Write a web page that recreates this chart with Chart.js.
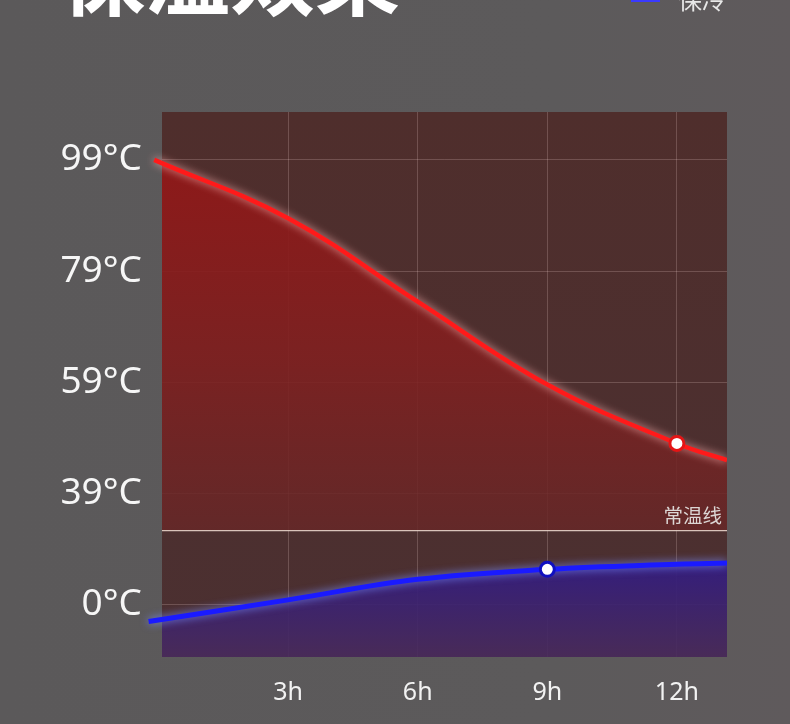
<!DOCTYPE html>
<html>
<head>
<meta charset="utf-8">
<script src="https://cdn.jsdelivr.net/npm/chart.js@4.4.1/dist/chart.umd.min.js"></script>
<style>
  html,body{margin:0;padding:0;background:#5c5a5b;overflow:hidden;}
  #wrap{position:relative;width:790px;height:724px;background:linear-gradient(90deg,#5b595a 0%,#5c5a5b 70%,#5f5a5c 100%);}
  #title{position:absolute;left:60px;top:-90px;font:bold 85px "Noto Sans CJK SC",sans-serif;color:#ffffff;white-space:nowrap;}
  #legend{position:absolute;left:631px;top:-20px;height:30px;white-space:nowrap;}
  #legend .box{position:absolute;left:0;top:8px;width:29px;height:14px;background:#1010d8;box-sizing:border-box;border:2px solid #3a3aff;}
  #legend .txt{position:absolute;left:47px;top:1px;font:24px "Noto Sans CJK SC",sans-serif;color:#e8e8e8;}
  canvas{position:absolute;left:0;top:0;}
</style>
</head>
<body>
<div id="wrap">
  <canvas id="c" width="790" height="724"></canvas>
  <div id="title">保温效果</div>
  <div id="legend"><div class="box"></div><div class="txt">保冷</div></div>
</div>
<script>
// ---- data ----
const yTickTemps  = [0, 39, 59, 79, 99];
const yTickLabels = ['0°C', '39°C', '59°C', '79°C', '99°C'];
const xTickHours  = [3, 6, 9, 12];
const xTickLabels = ['3h', '6h', '9h', '12h'];

const warmHours = [-0.1, 3, 6, 9, 12, 13.16];
const warmTemps = [99, 88.5, 73.5, 58.6, 48, 45];
const warmMarkerHour = 12;

const coldHours = [-0.23, 3, 6, 9, 12, 13.16];
const coldTemps = [-5.9, 1.7, 8.9, 12.4, 14.2, 14.6];
const coldMarkerHour = 9;

const roomTemp = 26;
const roomLabel = '常温线';
const seriesNames = ['保温', '保冷'];

// axis in the picture is evenly spaced per tick label (piecewise)
function tempToPos(t) {
  for (let i = 0; i < yTickTemps.length - 1; i++) {
    const a = yTickTemps[i], b = yTickTemps[i + 1];
    if (t <= b || i === yTickTemps.length - 2) return i + (t - a) / (b - a);
  }
}
const X_MIN = 0.08, X_MAX = 13.16;
const toPts = (hs, ts) => hs.map((h, i) => ({x: h, y: tempToPos(ts[i])}));
const warmPts = toPts(warmHours, warmTemps);
const coldPts = toPts(coldHours, coldTemps);
const warmMarker = warmPts.filter((p, i) => warmHours[i] === warmMarkerHour);
const coldMarker = coldPts.filter((p, i) => coldHours[i] === coldMarkerHour);
const roomPos = tempToPos(roomTemp);
const roomPts = [{x: X_MIN, y: roomPos}, {x: X_MAX, y: roomPos}];

const ctx = document.getElementById('c').getContext('2d');

function vGrad(chart, stops) {
  const a = chart.chartArea;
  if (!a) return stops[0][1];
  const g = chart.ctx.createLinearGradient(0, a.top, 0, a.bottom);
  stops.forEach(s => g.addColorStop(s[0], s[1]));
  return g;
}

const plotBg = {
  id: 'plotBg',
  beforeDraw(chart) {
    const {ctx, chartArea: a} = chart;
    ctx.save();
    const g = ctx.createLinearGradient(0, a.top, 0, a.bottom);
    g.addColorStop(0, '#4f2e2c');
    g.addColorStop(1, '#4b3031');
    ctx.fillStyle = g;
    ctx.fillRect(a.left, a.top, a.right - a.left, a.bottom - a.top);
    ctx.restore();
  }
};

const glow = {
  id: 'glow',
  beforeDatasetDraw(chart, args) {
    const ds = chart.data.datasets[args.index];
    if (ds._glow) {
      chart.ctx.save();
      chart.ctx.shadowColor = ds._glow;
      chart.ctx.shadowBlur = ds._blur || 8;
    }
  },
  afterDatasetDraw(chart, args) {
    const ds = chart.data.datasets[args.index];
    if (ds._glow) chart.ctx.restore();
  }
};

const roomText = {
  id: 'roomText',
  afterDatasetsDraw(chart) {
    const {ctx, chartArea: a, scales} = chart;
    const y = scales.y.getPixelForValue(roomPos);
    ctx.save();
    ctx.font = '19.5px "Noto Sans CJK SC", sans-serif';
    ctx.fillStyle = '#dcd6d4';
    ctx.textAlign = 'right';
    ctx.textBaseline = 'alphabetic';
    ctx.fillText(roomLabel, a.right - 5, y - 8);
    ctx.restore();
  }
};

new Chart(ctx, {
  type: 'line',
  data: {
    datasets: [
      { // warm fill (clipped to plot)
        label: seriesNames[0] + ' fill',
        data: warmPts,
        borderWidth: 0,
        pointRadius: 0,
        tension: 0.4,
        fill: {value: roomPos},
        backgroundColor: (c) => vGrad(c.chart, [[0, 'rgba(150,22,22,0.95)'], [0.45, 'rgba(128,32,32,0.9)'], [0.8, 'rgba(100,40,40,0.85)']]),
        order: 5
      },
      { // cold fill
        label: seriesNames[1] + ' fill',
        data: coldPts,
        borderWidth: 0,
        pointRadius: 0,
        tension: 0.4,
        fill: 'start',
        backgroundColor: (c) => vGrad(c.chart, [[0.82, 'rgba(50,28,130,0.95)'], [1, 'rgba(72,42,92,0.9)']]),
        order: 5
      },
      { // room temperature line
        label: roomLabel,
        data: roomPts,
        borderColor: 'rgba(240,222,212,0.85)',
        borderWidth: 1.3,
        pointRadius: 0,
        fill: false,
        order: 4
      },
      { // warm line
        label: seriesNames[0],
        data: warmPts,
        borderColor: '#ff1a1a',
        borderWidth: 4.5,
        tension: 0.4,
        fill: false,
        clip: {left: false, top: 5, right: 0, bottom: 5},
        pointRadius: 0,
        _glow: 'rgba(255,180,180,0.85)',
        order: 2
      },
      { // cold line
        label: seriesNames[1],
        data: coldPts,
        borderColor: '#1a1aff',
        borderWidth: 5,
        tension: 0.4,
        fill: false,
        clip: {left: false, top: 5, right: 0, bottom: 5},
        pointRadius: 0,
        _glow: 'rgba(120,140,255,0.9)',
        order: 2
      },
      { // warm marker
        label: seriesNames[0] + ' marker',
        data: warmMarker,
        showLine: false,
        pointRadius: 7,
        pointBackgroundColor: '#ffffff',
        pointBorderColor: '#e41515',
        pointBorderWidth: 3,
        order: 1
      },
      { // cold marker
        label: seriesNames[1] + ' marker',
        data: coldMarker,
        showLine: false,
        pointRadius: 7,
        pointBackgroundColor: '#ffffff',
        pointBorderColor: '#1010c0',
        pointBorderWidth: 3,
        order: 1
      }
    ]
  },
  options: {
    responsive: false,
    animation: false,
    layout: {padding: {top: 112, right: 63, left: 0, bottom: 0}},
    plugins: {legend: {display: false}, tooltip: {enabled: false}, title: {display: false}},
    scales: {
      x: {
        type: 'linear',
        min: X_MIN,
        max: X_MAX,
        afterBuildTicks: (s) => { s.ticks = xTickHours.map(v => ({value: v})); },
        afterFit: (s) => { s.height = 67; },
        ticks: {
          callback: (v) => xTickLabels[xTickHours.indexOf(v)] ?? '',
          color: '#f2f2f2',
          font: {family: '"Noto Sans", sans-serif', size: 25},
          padding: 21,
          maxRotation: 0,
          autoSkip: false
        },
        grid: {color: 'rgba(255,225,220,0.2)', lineWidth: 1, drawTicks: false},
        border: {display: false}
      },
      y: {
        type: 'linear',
        min: -0.47,
        max: 4.43,
        afterBuildTicks: (s) => { s.ticks = yTickTemps.map((t, i) => ({value: i})); },
        afterFit: (s) => { s.width = 162; },
        ticks: {
          callback: (v) => yTickLabels[v] ?? '',
          color: '#f6f6f6',
          font: {family: '"Noto Sans", sans-serif', size: 37},
          padding: 20,
          autoSkip: false
        },
        grid: {color: 'rgba(255,225,220,0.2)', lineWidth: 1, drawTicks: false},
        border: {display: false}
      }
    }
  },
  plugins: [plotBg, glow, roomText]
});
</script>
</body>
</html>
